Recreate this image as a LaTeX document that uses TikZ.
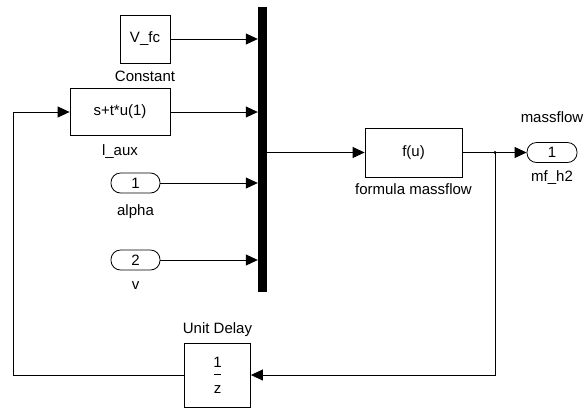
\documentclass[tikz,border=0pt]{standalone}
\usepackage{fontspec}
\setmainfont{Liberation Sans}
\usetikzlibrary{arrows.meta,positioning}

\begin{document}
\begin{tikzpicture} [
    x=1pt, y=-1pt,
    font=\fontsize{15}{17}\selectfont,
    block/.style    = { rectangle, draw, line width=0.8pt, text centered,
                        inner sep=0pt },
    port/.style     = { block, rounded corners=9.5pt,
                        minimum width=49pt, minimum height=20pt },
    lbl/.style      = { inner sep=0pt },
    line/.style     = { draw, line width=0.8pt,
                        -{Triangle[length=12pt,width=11pt]} },
    wire/.style     = { draw, line width=0.8pt },
  ]
  \useasboundingbox (0,0) rectangle (588,408);

  % Define nodes
  \node[block, minimum width=50pt, minimum height=48pt] (const) at (145,39) {V\_fc};
  \node[block, minimum width=100pt, minimum height=47pt] (laux) at (120,112) {s+t*u(1)};
  \node[port] (in1) at (135.5,183) {1};
  \node[port] (in2) at (135.5,260) {2};
  \node[rectangle, fill=black, minimum width=9pt, minimum height=285pt,
        inner sep=0pt] (mux) at (262.5,149.5) {};
  \node[block, minimum width=97pt, minimum height=49pt] (fcn) at (413.5,152.5) {f(u)};
  \node[port, minimum width=50pt] (out1) at (552,152.5) {1};
  \node[block, minimum width=66pt, minimum height=64pt, align=center]
        (delay) at (217.5,375) {1\\[-5pt]\rule[4pt]{7pt}{0.8pt}\\[-3pt]z};

  % block names
  \node[lbl, below=7pt of const] (constlbl) {Constant};
  \node[lbl, below=9pt of laux] (lauxlbl) {l\_aux};
  \node[lbl, below=11pt of in1] (in1lbl) {alpha};
  \node[lbl, below=11pt of in2] (in2lbl) {v};
  \node[lbl, below=6pt of fcn] (fcnlbl) {formula massflow};
  \node[lbl, above=19pt of out1] (out1sig) {massflow};
  \node[lbl, below=8pt of out1] (out1lbl) {mf\_h2};
  \node[lbl, above=6pt of delay] (delaylbl) {Unit Delay};

  \coordinate (branch) at (495,152.5);
  \coordinate (back) at (13,250);

  % connect the nodes
  \path [line] (const) -- (const -| mux.west);
  \path [line] (laux) -- (laux -| mux.west);
  \path [line] (in1) -- (in1 -| mux.west);
  \path [line] (in2) -- (in2 -| mux.west);
  \path [line] (mux.east |- fcn) -- (fcn);
  \path [line] (fcn) -- (out1);
  \fill (branch) circle (1.6pt);
  \path [line] (branch) |- (delay.east);
  \path [wire] (delay.west) -| (back);
  \path [line] (back) |- (laux.west);
\end{tikzpicture}
\end{document}
